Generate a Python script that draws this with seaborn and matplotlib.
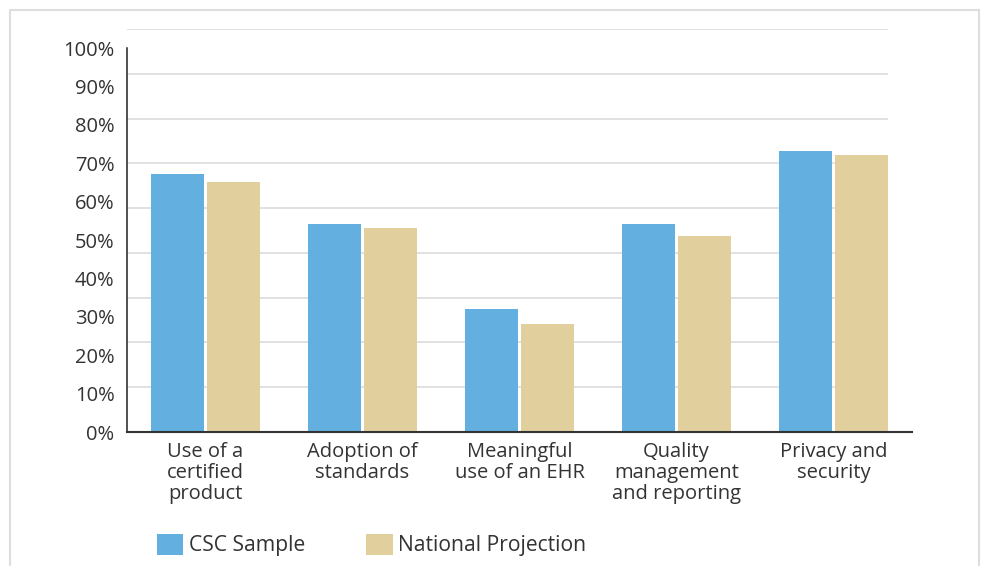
import matplotlib
matplotlib.use("Agg")
import matplotlib.pyplot as plt
from matplotlib.lines import Line2D
import numpy as np
import pandas as pd
import seaborn as sns

# Chart data
categories = [
    "Use of a\ncertified\nproduct",
    "Adoption of\nstandards",
    "Meaningful\nuse of an EHR",
    "Quality\nmanagement\nand reporting",
    "Privacy and\nsecurity",
]
series_names = ["CSC Sample", "National Projection"]
csc_sample = [67.2, 54.2, 32.0, 54.2, 73.2]
national_projection = [65.1, 53.1, 28.1, 51.0, 72.1]
y_tick_values = [0, 10, 20, 30, 40, 50, 60, 70, 80, 90, 100]
y_tick_labels = [f"{v}%" for v in y_tick_values]

df = pd.DataFrame({
    "category": categories * 2,
    "series": [series_names[0]] * len(categories) + [series_names[1]] * len(categories),
    "value": csc_sample + national_projection,
})

BLUE = "#62AFE0"
TAN = "#E2CF9E"
TEXT = "#333333"
FS = 14.5

sns.set_theme(style="white")
plt.rcParams["font.family"] = ["Open Sans", "DejaVu Sans"]

W, H = 985, 566
fig = plt.figure(figsize=(W / 100, H / 100), dpi=100)
ax = fig.add_axes([127 / W, 1 - 432 / H, (912 - 127) / W, (432 - 29) / H])

sns.barplot(
    data=df, x="category", y="value", hue="series",
    order=categories, hue_order=series_names,
    palette=[BLUE, TAN], width=0.71, gap=0.05, linewidth=0,
    saturation=1, ax=ax, zorder=3,
)

ax.set_xlim(-0.5, len(categories) - 0.5)
ax.set_ylim(0, 105)

# Light horizontal rules behind the bars
grid_levels = np.linspace(105 / 9, 105, 9)
ax.hlines(grid_levels, -0.5, len(categories) - 1 + 0.35,
          colors="#dcdcdc", linewidth=1.2, zorder=1)

ax.set_yticks(y_tick_values)
ax.set_yticklabels(y_tick_labels)
ax.tick_params(axis="y", length=0, pad=9, labelsize=FS, labelcolor=TEXT)
ax.tick_params(axis="x", length=0, pad=7, labelsize=FS, labelcolor=TEXT)
for lbl in ax.get_xticklabels():
    lbl.set_linespacing(1.08)
ax.set_xlabel("")
ax.set_ylabel("")

for side in ("top", "right"):
    ax.spines[side].set_visible(False)
ax.spines["left"].set_bounds(0, 100)
ax.spines["left"].set_color("#222222")
ax.spines["left"].set_linewidth(1.1)
ax.spines["bottom"].set_color("#333333")
ax.spines["bottom"].set_linewidth(1.5)
ax.spines["bottom"].set_zorder(4)

handles, labels = ax.get_legend_handles_labels()
ax.legend(
    handles, labels, loc="center left",
    bbox_to_anchor=(157 / W, 1 - 545 / H), bbox_transform=fig.transFigure,
    ncol=2, frameon=False, fontsize=15.2, labelcolor=TEXT,
    handlelength=1.25, handleheight=1.2, handletextpad=0.25,
    columnspacing=2.9, borderpad=0, borderaxespad=0,
)

# Thin frame around the figure
frame_kw = dict(color="#dedede", linewidth=1.5, transform=fig.transFigure)
fig.add_artist(Line2D([10 / W, 10 / W], [0, 1 - 10 / H], **frame_kw))
fig.add_artist(Line2D([10 / W, 979 / W], [1 - 10 / H, 1 - 10 / H], **frame_kw))
fig.add_artist(Line2D([979 / W, 979 / W], [0, 1 - 10 / H], **frame_kw))

fig.savefig("out.png", dpi=100, facecolor="white")
